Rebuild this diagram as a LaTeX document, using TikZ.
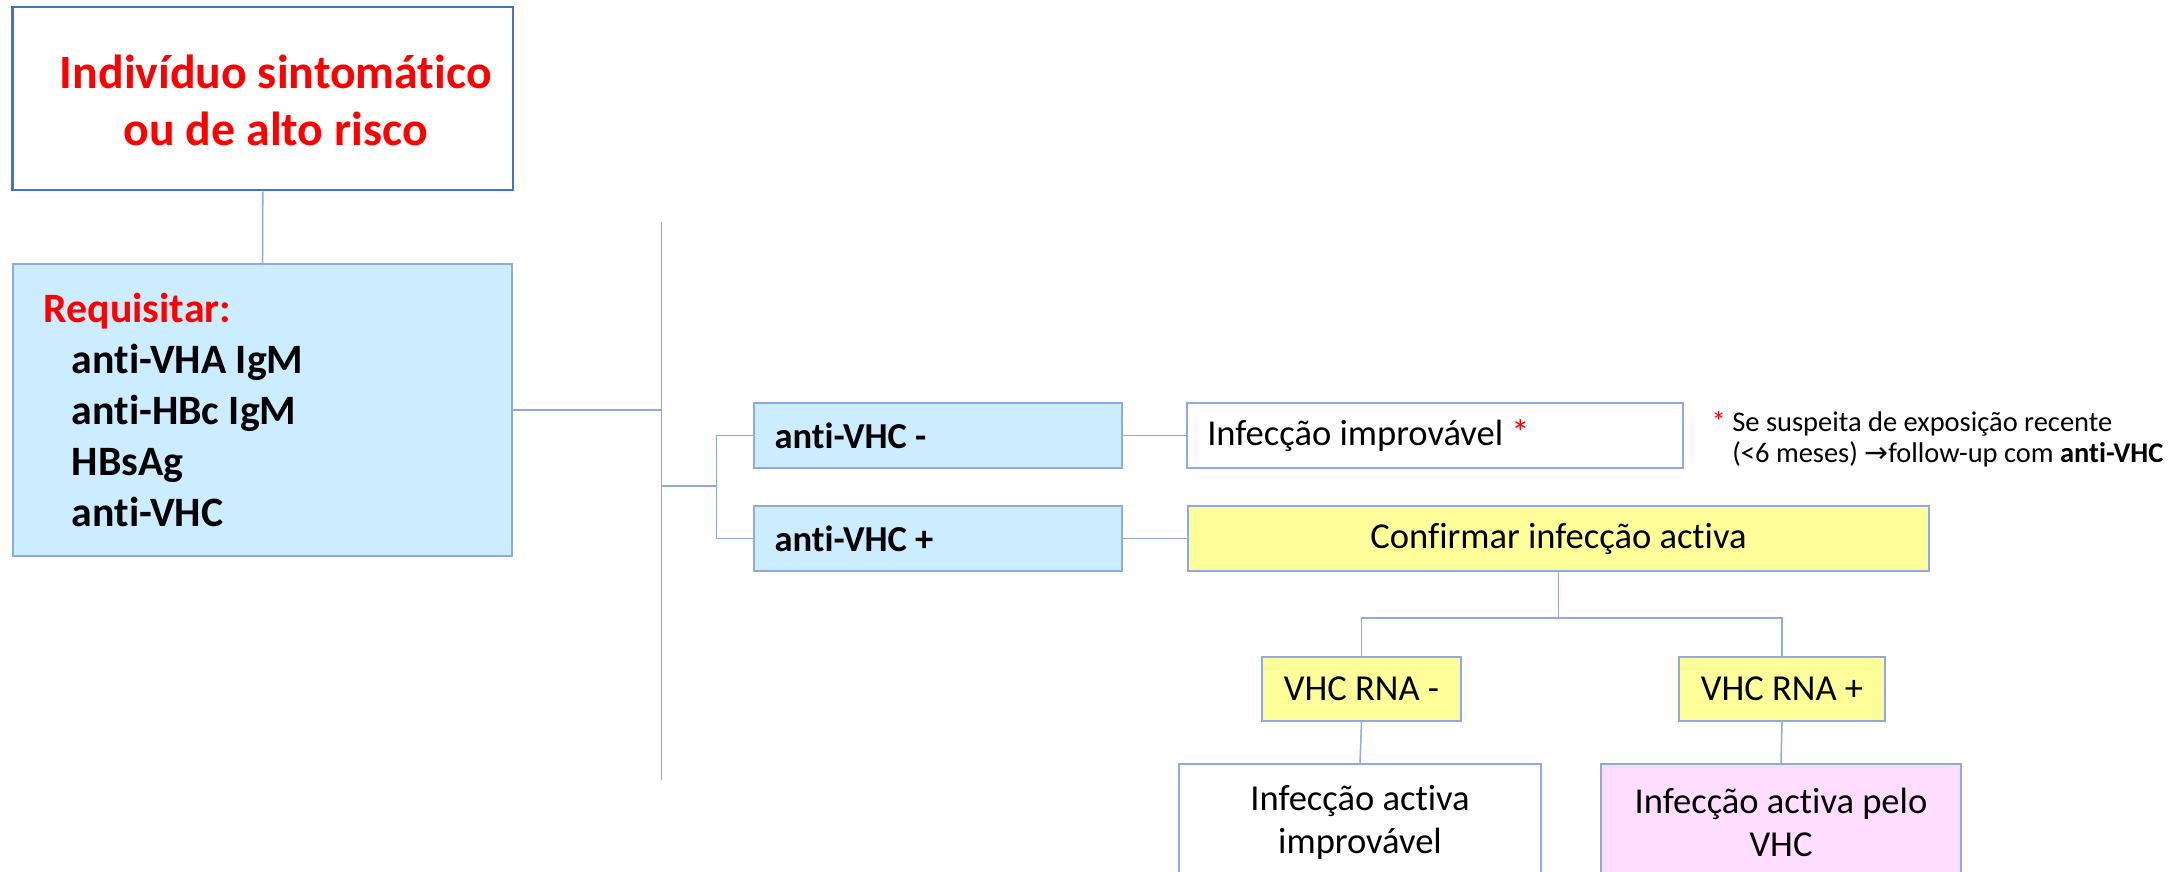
\documentclass[tikz,border=0pt]{standalone}
\usepackage{fontspec}
\setmainfont{Carlito}[Ligatures={TeX,NoCommon}]
\newfontfamily\arrowfont{DejaVu Sans}
\definecolor{riskblue}{HTML}{4472C4}
\definecolor{edgeblue}{HTML}{8FAADC}
\definecolor{reqfill}{HTML}{CCECFF}
\definecolor{askyellow}{HTML}{FFFF99}
\definecolor{vhcpink}{HTML}{FFDDFF}
\tikzset{
  every node/.append style={execute at begin node={\spaceskip=0pt\relax}},
  box/.style={draw=edgeblue, line width=0.57pt, inner sep=0pt, minimum height=0.65cm,
    font=\fontsize{10.4}{12.2}\selectfont},
  testbox/.style={box, fill=reqfill, text width=3.26cm, inner xsep=0.21cm, align=left,
    font=\fontsize{10.4}{12.2}\selectfont\bfseries},
  askbox/.style={box, fill=askyellow, align=center},
  endbox/.style={box, anchor=north, minimum height=1.16cm, align=center},
  link/.style={draw=edgeblue, line width=0.43pt},
}
\begin{document}
\begin{tikzpicture}
\useasboundingbox (0,0) rectangle (21.79,-8.71);
\clip (0,0) rectangle (21.79,-8.71);
% left column
\node[draw=riskblue, line width=0.71pt, minimum width=5.005cm, minimum height=1.83cm] (risk) at (2.628,-0.985) {};
\node[text=red, align=center, font=\fontsize{13.6}{16.2}\selectfont\bfseries] (risktxt) at (2.757,-1.0) {Indivíduo sintomático\\ou de alto risco};
\node[box, fill=reqfill, minimum height=2.92cm, text width=4.375cm, inner xsep=0.31cm, align=left,
  font=\fontsize{11.9}{14.5}\selectfont\bfseries] (req) at (2.625,-4.10)
  {{\color{red}Requisitar:}\\
   \hspace*{0.28cm}anti-VHA IgM\\
   \hspace*{0.28cm}anti-HBc IgM\\
   \hspace*{0.28cm}HBsAg\\
   \hspace*{0.28cm}anti-VHC};
\coordinate (bustop) at (6.615,-2.22);
\coordinate (busbot) at (6.615,-7.80);
\coordinate (fork) at (7.165,-4.86);
% anti-VHC results
\node[testbox] (neg) at (9.375,-4.355) {anti-VHC -};
\node[testbox] (pos) at (9.375,-5.385) {anti-VHC +};
\node[box, text width=4.555cm, inner xsep=0.2cm, align=left] (unlikely) at (14.35,-4.355) {Infecção improvável {\color{red}*}};
\node[askbox, minimum width=7.41cm] (confirm) at (15.585,-5.385) {Confirmar infecção activa};
\node[anchor=north west, align=left, inner sep=0pt, font=\fontsize{8.1}{8.6}\selectfont] (note) at (17.11,-4.11)
  {{\color{red}*} Se suspeita de exposição recente\\
   \hphantom{*\ }(<6 meses) {\arrowfont →}follow-up com \textbf{anti-VHC}};
% VHC RNA
\node[askbox, minimum width=1.99cm, minimum height=0.64cm] (rnaneg) at (13.615,-6.89) {VHC RNA -};
\node[askbox, minimum width=2.06cm, minimum height=0.64cm] (rnapos) at (17.82,-6.89) {VHC RNA +};
\node[endbox, minimum width=3.615cm] (inactive) at (13.60,-7.63) {Infecção activa\\improvável};
\node[endbox, fill=vhcpink, minimum width=3.60cm] (active) at (17.81,-7.63) {Infecção activa pelo\\VHC};
\coordinate (split) at ([yshift=-0.46cm]confirm.south);
% connectors
\draw[link] (risk.south) -- (req.north);
\draw[link] (bustop) -- (busbot);
\draw[link] (req.east) -- (req.east -| bustop);
\draw[link] (fork -| bustop) -- (fork);
\draw[link] (neg.west) -| (fork) |- (pos.west);
\draw[link] (neg.east) -- (unlikely.west);
\draw[link] (pos.east) -- (confirm.west);
\draw[link] (confirm.south) -- (split);
\draw[link] (rnaneg.north) |- (split) -| (rnapos.north);
\draw[link] (rnaneg.south) -- (inactive.north);
\draw[link] (rnapos.south) -- (active.north);
\end{tikzpicture}
\end{document}
